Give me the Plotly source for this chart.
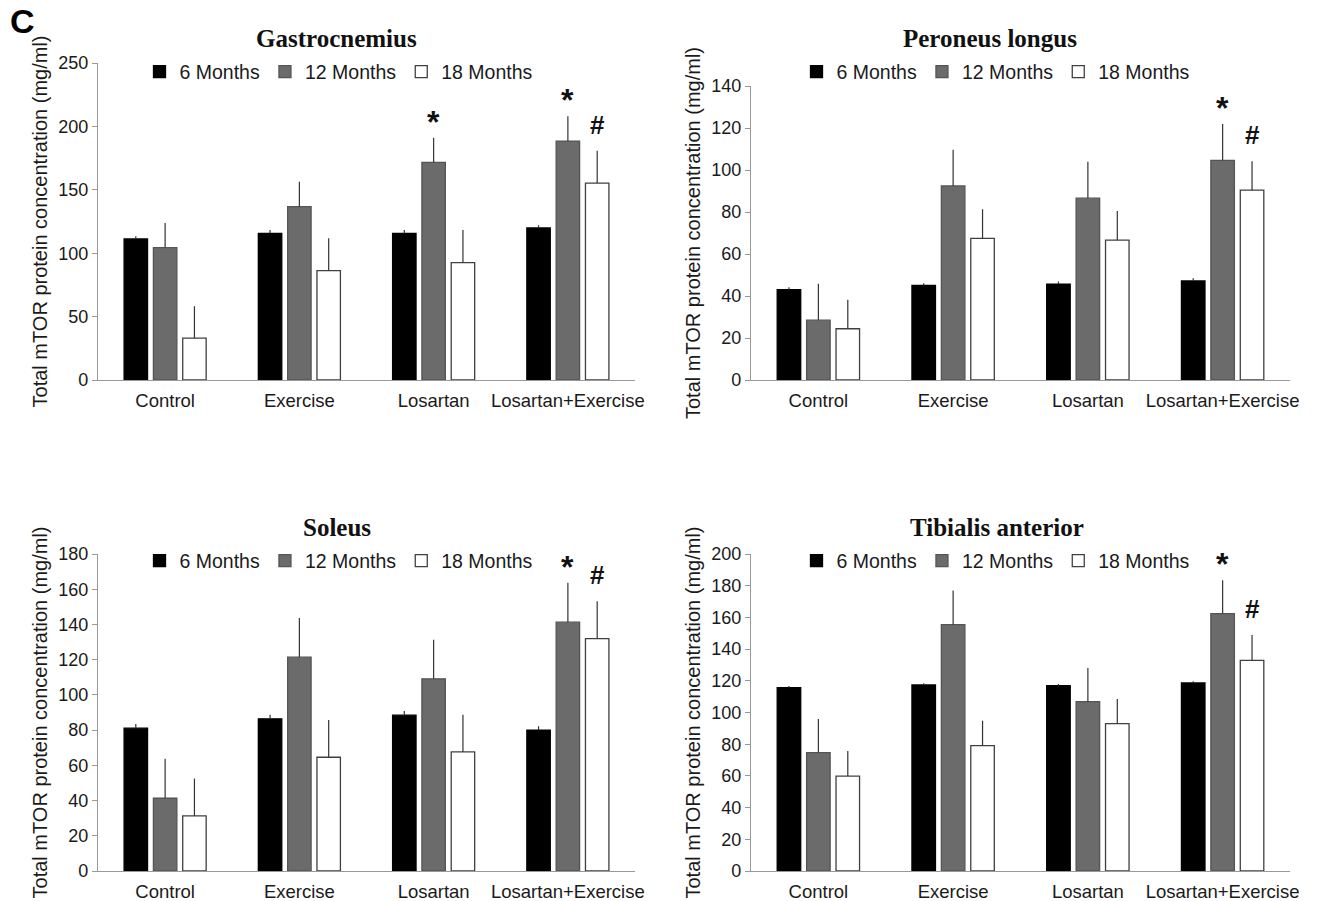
import plotly.graph_objects as go

categories = ["Control", "Exercise", "Losartan", "Losartan+Exercise"]
series_names = ["6 Months", "12 Months", "18 Months"]

gastro_6 = [111.2, 115.7, 115.7, 119.9]
gastro_6_err = [2.1, 2.6, 2.6, 2.1]
gastro_12 = [104.4, 136.7, 171.6, 188.4]
gastro_12_err = [19.4, 19.6, 19.4, 19.6]
gastro_18 = [33.0, 86.3, 92.6, 155.3]
gastro_18_err = [25.2, 25.5, 25.7, 25.4]

peroneus_6 = [43.0, 45.0, 45.7, 47.2]
peroneus_6_err = [1.2, 1.1, 1.2, 1.3]
peroneus_12 = [28.5, 92.4, 86.6, 104.6]
peroneus_12_err = [17.3, 17.2, 17.3, 17.3]
peroneus_18 = [24.4, 67.4, 66.6, 90.4]
peroneus_18_err = [13.8, 13.9, 13.9, 13.8]

soleus_6 = [81.1, 86.4, 88.5, 80.0]
soleus_6_err = [2.3, 2.3, 2.4, 2.2]
soleus_12 = [41.3, 121.4, 109.1, 141.3]
soleus_12_err = [22.4, 22.2, 22.2, 22.4]
soleus_18 = [31.3, 64.6, 67.6, 131.9]
soleus_18_err = [21.2, 21.2, 21.1, 21.2]

tibialis_6 = [115.7, 117.4, 116.9, 118.6]
tibialis_6_err = [1.0, 1.0, 1.1, 1.1]
tibialis_12 = [74.7, 155.4, 106.8, 162.4]
tibialis_12_err = [21.2, 21.5, 21.3, 21.0]
tibialis_18 = [59.9, 79.1, 93.0, 132.9]
tibialis_18_err = [15.8, 15.7, 15.5, 16.0]

panel_titles = ["Gastrocnemius", "Peroneus longus", "Soleus", "Tibialis anterior"]
y_max = [250, 140, 180, 200]
y_dtick = [50, 20, 20, 20]

# significance marks: (category index, series index, symbol)
gastro_marks = [(2, 1, "*"), (3, 1, "*"), (3, 2, "#")]
peroneus_marks = [(3, 1, "*"), (3, 2, "#")]
soleus_marks = [(3, 1, "*"), (3, 2, "#")]
tibialis_marks = [(3, 1, "*"), (3, 2, "#")]

panels = [
    ([gastro_6, gastro_12, gastro_18], [gastro_6_err, gastro_12_err, gastro_18_err], gastro_marks),
    ([peroneus_6, peroneus_12, peroneus_18], [peroneus_6_err, peroneus_12_err, peroneus_18_err], peroneus_marks),
    ([soleus_6, soleus_12, soleus_18], [soleus_6_err, soleus_12_err, soleus_18_err], soleus_marks),
    ([tibialis_6, tibialis_12, tibialis_18], [tibialis_6_err, tibialis_12_err, tibialis_18_err], tibialis_marks),
]

# page has an 8px body margin: positions are page pixels minus 8
OFF = 8
W, H = 1320 - 2 * OFF, 901 - OFF


def px(xp):
    return (xp - OFF) / W


def py(yp):
    return 1 - (yp - OFF) / H


fill_colors = ["#000000", "#6b6b6b", "#ffffff"]
line_colors = ["#000000", "#555555", "#404040"]

# page-pixel layout of each panel: (x0, x1, y_top, y_bottom)
px_boxes = [(98, 635, 63, 380), (751, 1290, 86, 380), (98, 635, 554, 871), (751, 1290, 554, 871)]
title_px = [(336, 38), (990, 38), (337, 527), (997, 527)]
legend_px = [(339, 72), (996, 72), (339, 561), (996, 561)]

bargap = 0.345
step = (1 - bargap) / 3

fig = go.Figure()
annotations = []
layout = {}
for p, (vals, errs, marks) in enumerate(panels):
    sfx = "" if p == 0 else str(p + 1)
    xa, ya = "x" + sfx, "y" + sfx
    leg = "legend" + sfx
    for s in range(3):
        fig.add_trace(go.Bar(
            x=categories, y=vals[s], name=series_names[s],
            xaxis=xa, yaxis=ya, legend=leg,
            marker=dict(color=fill_colors[s], line=dict(color=line_colors[s], width=1.3)),
            error_y=dict(type="data", symmetric=False, array=errs[s],
                         arrayminus=[0] * len(errs[s]), color="#333333",
                         thickness=1.2, width=0),
            offsetgroup=str(s),
        ))
    x0, x1, yt, yb = px_boxes[p]
    layout["xaxis" + sfx] = dict(
        domain=[px(x0), px(x1)], anchor=ya, type="category",
        showline=True, linecolor="#999999", linewidth=1.3, ticks="",
        showgrid=False, zeroline=False, automargin=False, ticklabelstandoff=4,
        tickfont=dict(family="Liberation Sans, Arial", size=18.5, color="#1a1a1a"),
    )
    layout["yaxis" + sfx] = dict(
        domain=[py(yb), py(yt)], anchor=xa,
        range=[0, y_max[p]], dtick=y_dtick[p],
        showline=True, linecolor="#999999", linewidth=1.3,
        ticks="outside", ticklen=5, tickcolor="#999999",
        showgrid=False, zeroline=False, automargin=False,
        tickfont=dict(family="Liberation Sans, Arial", size=18, color="#1a1a1a"),
        title=dict(text="Total mTOR protein concentration (mg/ml)",
                   font=dict(family="Liberation Sans, Arial", size=20, color="#1a1a1a"),
                   standoff=5),
    )
    lx, ly = legend_px[p]
    layout[leg] = dict(
        orientation="h", x=px(lx), y=py(ly), xanchor="center", yanchor="middle",
        font=dict(family="Liberation Sans, Arial", size=19.5, color="#1a1a1a"),
        bgcolor="rgba(0,0,0,0)", itemwidth=30, tracegroupgap=0,
    )
    tx, ty = title_px[p]
    annotations.append(dict(
        text="<b>" + panel_titles[p] + "</b>", x=px(tx), y=py(ty),
        xref="paper", yref="paper", xanchor="center", yanchor="middle",
        showarrow=False, font=dict(family="Liberation Serif, Times New Roman", size=25, color="#111111"),
    ))
    for (c, s, sym) in marks:
        top = vals[s][c] + errs[s][c]
        annotations.append(dict(
            text="<b>" + sym + "</b>", x=c + (s - 1) * step, y=top,
            xref=xa, yref=ya, xanchor="center", yanchor="bottom",
            yshift=(-4 if sym == "*" else 9), showarrow=False,
            font=dict(family="Liberation Sans, Arial", size=32 if sym == "*" else 26, color="#111111"),
        ))

annotations.append(dict(
    text="<b>C</b>", x=px(22), y=py(21), xref="paper", yref="paper",
    xanchor="center", yanchor="middle", showarrow=False,
    font=dict(family="Liberation Sans, Arial", size=34, color="#000000"),
))

fig.update_layout(
    width=W, height=H, margin=dict(l=0, r=0, t=0, b=0, pad=0, autoexpand=False),
    paper_bgcolor="white", plot_bgcolor="white",
    barmode="group", bargap=bargap, bargroupgap=0.2,
    annotations=annotations, **layout,
)

fig.write_html("out.html")
